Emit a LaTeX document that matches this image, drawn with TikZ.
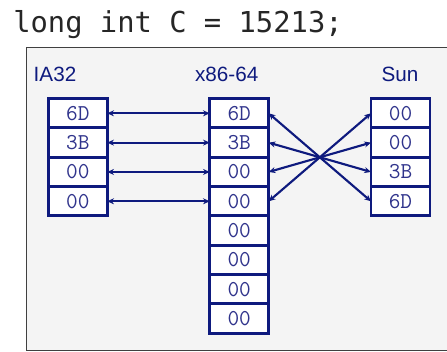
\documentclass[tikz,border=0pt]{standalone}
\usepackage{fontspec}
\setmainfont{Liberation Sans}
\newfontfamily\codefont{DejaVu Sans Mono}
\usepackage{xcolor}
\usepackage{tikz}
\usetikzlibrary{arrows.meta,positioning}
\definecolor{navyline}{HTML}{0E1A7E}
\definecolor{navytext}{HTML}{30348C}
\definecolor{panelgray}{HTML}{F4F4F4}

\tikzset{
  cell/.style={draw=navyline, line width=2.2pt, fill=white, minimum width=44.25pt,
    minimum height=22pt, inner sep=0pt, outer sep=0pt, text=navytext,
    font=\ttfamily\fontsize{17}{18}\selectfont},
  archlabel/.style={text=navyline, font=\fontsize{15.5}{16}\selectfont, inner sep=0pt},
  swap/.style={navyline, line width=1.6pt, {Stealth[length=5pt,width=4.5pt]}-{Stealth[length=5pt,width=4.5pt]}}
}

\begin{document}
\begin{tikzpicture}[x=0.75pt, y=-0.75pt]
\useasboundingbox (0,0) rectangle (447,352);
\node[anchor=base west, inner sep=0pt, text=black!85, font=\codefont\fontsize{21.6}{24}\selectfont] (decl) at (13,33) {long int C = 15213;};
\draw[fill=panelgray, draw=black!75, line width=0.8pt] (26.7,47.7) rectangle (460,350.7);
% column headings
\node[archlabel] (ialab) at (55,74) {IA32};
\node[archlabel] (xlab) at (226.7,74) {x86-64};
\node[archlabel] (sunlab) at (400,74) {Sun};
% memory bytes
\foreach \b [count=\i from 0] in {6D,3B,00,00}{
  \node[cell] (ia\i) at (77.8,113.3+29.33*\i) {\b};
}
\foreach \b [count=\i from 0] in {6D,3B,00,00,00,00,00,00}{
  \node[cell] (xa\i) at (239.2,113.3+29.33*\i) {\b};
}
\foreach \b [count=\i from 0] in {00,00,3B,6D}{
  \node[cell] (sun\i) at (400.5,113.3+29.33*\i) {\b};
}
% byte correspondence
\foreach \i in {0,...,3}{
  \draw[swap] (ia\i.east) -- (xa\i.west);
}
\foreach \i/\j in {0/3,1/2,2/1,3/0}{
  \draw[swap] (xa\i.east) -- (sun\j.west);
}
\end{tikzpicture}
\end{document}
